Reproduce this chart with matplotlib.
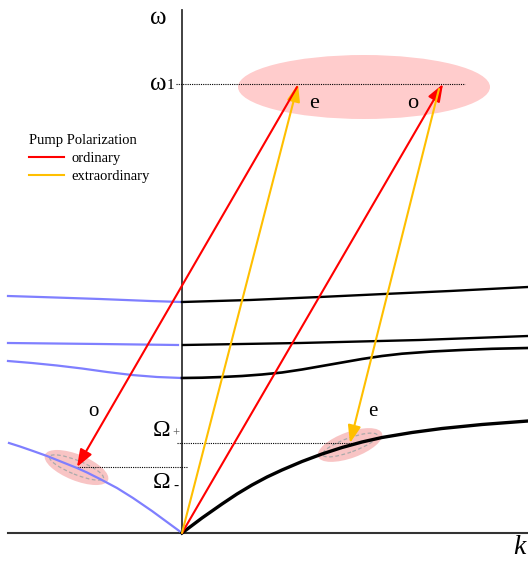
import matplotlib
matplotlib.use("Agg")
import matplotlib.pyplot as plt
from matplotlib.patches import Ellipse
from matplotlib.lines import Line2D

plt.rcParams['font.family'] = ['Liberation Serif', 'DejaVu Serif']

# dispersion branches, k >= 0 (black) and k <= 0 (blue), in pixel-like units
k_up1 = [0, 68, 138, 202, 268, 346]
w_up1 = [231, 233, 236, 239, 242, 246]
k_up1_neg = [-174, -142, -82, -32, 0]
w_up1_neg = [237, 236, 234, 232, 231]

k_up2 = [1, 118, 238, 346]
w_up2 = [188, 190, 193, 197]
k_up2_neg = [-174, -82, -4]
w_up2_neg = [190, 189, 188]

k_up3 = [0, 20, 40, 60, 80, 100, 120, 140, 160, 180, 200, 220, 250, 280, 310, 346]
w_up3 = [155, 155.3, 156, 157, 158.5, 160.5, 163.5, 167, 170.5, 174, 177, 179.3,
         181.5, 183, 184.2, 185]
k_up3_neg = [-174, -150, -125, -100, -75, -50, -25, 0]
w_up3_neg = [172, 170, 167.5, 164.5, 161, 158, 156, 155]

k_low = [0, 10, 20, 30, 40, 55, 70, 85, 100, 120, 140, 160, 180, 200, 230, 260,
         300, 346]
w_low = [0, 7.5, 15, 22, 29, 39, 48, 56, 63, 71.5, 79, 85.5, 91, 95.5, 100.5,
         104.5, 108.5, 112]
k_low_neg = [-173, -162, -149, -135, -120, -105, -95, -82, -65, -49, -30, -15, 0]
w_low_neg = [90, 86.5, 82, 77, 71, 65, 60.5, 54, 45, 35, 22, 11, 0]

# pump and signal points
w1 = 449
omega_plus = 90
omega_minus = 66
pump_o = (261, 449)
pump_e = (116, 449)
signal_o = (-105, 66)
signal_e = (168, 90)

fig = plt.figure(figsize=(5.28, 5.61), dpi=100)
ax = fig.add_axes([0, 0, 1, 1])
ax.set_xlim(-182, 346)
ax.set_ylim(-28, 533)
ax.axis('off')

# shaded regions
ax.add_patch(Ellipse((182, 446), 252, 64, color='#ffcccc', lw=0, zorder=1))
ax.add_patch(Ellipse((-105.5, 65.5), 68, 26, angle=-22, color='#f8c4c4', lw=0, zorder=1))
ax.add_patch(Ellipse((168, 88), 68, 26, angle=20, color='#f8c4c4', lw=0, zorder=1))
ax.add_patch(Ellipse((-105.5, 65.5), 58, 14, angle=-22, fill=False, ec='#aaaaaa',
                     ls=(0, (3, 2)), lw=0.9, zorder=2))
ax.add_patch(Ellipse((168, 88), 58, 14, angle=20, fill=False, ec='#aaaaaa',
                     ls=(0, (3, 2)), lw=0.9, zorder=2))

# axes
ax.plot([-174, 346], [0, 0], color='#333333', lw=1.5, zorder=3)
ax.plot([0, 0], [0, 523], color='#333333', lw=1.3, zorder=3)

# dotted guides
dot = dict(color='black', lw=0.8, ls=(0, (1, 1)), zorder=3)
ax.plot([-6, 283], [w1, w1], **dot)
ax.plot([-5, 176], [omega_plus, omega_plus], **dot)
ax.plot([-105, 6], [omega_minus, omega_minus], **dot)

# branches
blue = '#7f7fff'
for kk, ww in [(k_up1_neg, w_up1_neg), (k_up2_neg, w_up2_neg),
               (k_up3_neg, w_up3_neg), (k_low_neg, w_low_neg)]:
    ax.plot(kk, ww, color=blue, lw=1.6, zorder=4, solid_joinstyle='round')
for kk, ww, lw in [(k_up1, w_up1, 1.7), (k_up2, w_up2, 1.7),
                   (k_up3, w_up3, 1.9), (k_low, w_low, 2.4)]:
    ax.plot(kk, ww, color='black', lw=lw, zorder=4, solid_joinstyle='round')

# arrows
red = '#ff0000'
amber = '#ffbf00'
arr = '-|>,head_length=0.75,head_width=0.28'
for start, end, c in [((0, 0), pump_o, red), ((0, 0), pump_e, amber),
                      ((pump_e[0] - 1, pump_e[1] - 3), signal_o, red),
                      ((pump_o[0] - 4, pump_o[1] - 5), signal_e, amber)]:
    ax.annotate('', xy=end, xytext=start, zorder=5,
                arrowprops=dict(arrowstyle=arr, color=c, lw=1.5,
                                shrinkA=0, shrinkB=0, mutation_scale=14))

# labels
ax.text(-24, 515, 'ω', fontsize=18, ha='center', va='center')
ax.text(-24, 449, 'ω', fontsize=18, ha='center', va='center')
ax.text(-15, 448, '1', fontsize=11, ha='left', va='center')
ax.text(-20, 102, 'Ω', fontsize=17, ha='center', va='center')
ax.text(-6, 99, '+', fontsize=9, ha='center', va='center', color='#555555')
ax.text(-20, 50, 'Ω', fontsize=17, ha='center', va='center')
ax.text(-6, 47, '-', fontsize=11, ha='center', va='center')
ax.text(337, -14, 'k', fontsize=20, style='italic', ha='center', va='center')
ax.text(132, 430, 'e', fontsize=16, ha='center', va='center')
ax.text(231, 430, 'o', fontsize=16, ha='center', va='center')
ax.text(-89, 121, 'o', fontsize=15, ha='center', va='center')
ax.text(191, 121, 'e', fontsize=15, ha='center', va='center')

handles = [Line2D([], [], color=red, lw=1.5), Line2D([], [], color=amber, lw=1.5)]
leg = ax.legend(handles, ['ordinary', 'extraordinary'], title='Pump Polarization',
                loc='upper left', bbox_to_anchor=(0.054, 0.762), frameon=False,
                fontsize=10.5, title_fontsize=10.5, alignment='left',
                handlelength=2.4, handletextpad=0.55, labelspacing=0.36,
                borderpad=0, borderaxespad=0)

fig.savefig('out.png', dpi=100)
